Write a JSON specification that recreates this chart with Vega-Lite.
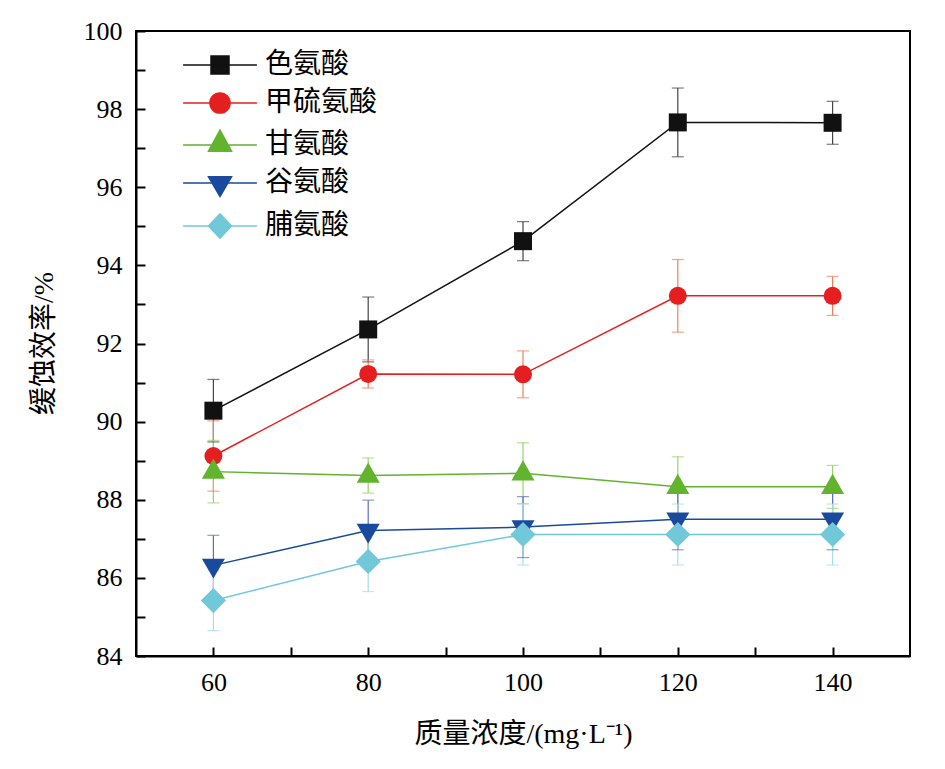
{
  "$schema": "https://vega.github.io/schema/vega-lite/v6.json",
  "width": 774,
  "height": 625,
  "autosize": {"type": "none"},
  "padding": {"left": 136, "top": 31, "right": 35, "bottom": 113},
  "background": "white",
  "config": {
    "font": "Liberation Serif",
    "view": {"stroke": "black", "strokeWidth": 2},
    "axis": {
      "grid": false,
      "domainColor": "black",
      "domainWidth": 2,
      "tickColor": "black",
      "tickWidth": 2,
      "tickSize": -9,
      "labelColor": "black",
      "labelFont": "Liberation Serif",
      "labelFontSize": 26,
      "titleColor": "black",
      "titleFont": "Liberation Serif, Noto Sans CJK SC",
      "titleFontSize": 28,
      "titleFontWeight": "normal"
    }
  },
  "data": {
    "values": [
      {"conc": 60, "acid": "色氨酸", "eff": 90.28, "lo": 89.48, "hi": 91.08},
      {"conc": 80, "acid": "色氨酸", "eff": 92.36, "lo": 91.53, "hi": 93.19},
      {"conc": 100, "acid": "色氨酸", "eff": 94.62, "lo": 94.12, "hi": 95.12},
      {"conc": 120, "acid": "色氨酸", "eff": 97.66, "lo": 96.78, "hi": 98.54},
      {"conc": 140, "acid": "色氨酸", "eff": 97.65, "lo": 97.1, "hi": 98.2},
      {"conc": 60, "acid": "甲硫氨酸", "eff": 89.12, "lo": 88.22, "hi": 90.02},
      {"conc": 80, "acid": "甲硫氨酸", "eff": 91.22, "lo": 90.86, "hi": 91.58},
      {"conc": 100, "acid": "甲硫氨酸", "eff": 91.21, "lo": 90.61, "hi": 91.81},
      {"conc": 120, "acid": "甲硫氨酸", "eff": 93.22, "lo": 92.29, "hi": 94.15},
      {"conc": 140, "acid": "甲硫氨酸", "eff": 93.22, "lo": 92.72, "hi": 93.72},
      {"conc": 60, "acid": "甘氨酸", "eff": 88.72, "lo": 87.92, "hi": 89.52},
      {"conc": 80, "acid": "甘氨酸", "eff": 88.62, "lo": 88.17, "hi": 89.07},
      {"conc": 100, "acid": "甘氨酸", "eff": 88.68, "lo": 87.9, "hi": 89.46},
      {"conc": 120, "acid": "甘氨酸", "eff": 88.33, "lo": 87.56, "hi": 89.1},
      {"conc": 140, "acid": "甘氨酸", "eff": 88.33, "lo": 87.78, "hi": 88.88},
      {"conc": 60, "acid": "谷氨酸", "eff": 86.32, "lo": 85.55, "hi": 87.09},
      {"conc": 80, "acid": "谷氨酸", "eff": 87.21, "lo": 86.43, "hi": 87.99},
      {"conc": 100, "acid": "谷氨酸", "eff": 87.3, "lo": 86.52, "hi": 88.08},
      {"conc": 120, "acid": "谷氨酸", "eff": 87.5, "lo": 86.72, "hi": 88.28},
      {"conc": 140, "acid": "谷氨酸", "eff": 87.5, "lo": 86.72, "hi": 88.28},
      {"conc": 60, "acid": "脯氨酸", "eff": 85.42, "lo": 84.65, "hi": 86.19},
      {"conc": 80, "acid": "脯氨酸", "eff": 86.42, "lo": 85.65, "hi": 87.19},
      {"conc": 100, "acid": "脯氨酸", "eff": 87.11, "lo": 86.33, "hi": 87.89},
      {"conc": 120, "acid": "脯氨酸", "eff": 87.11, "lo": 86.33, "hi": 87.89},
      {"conc": 140, "acid": "脯氨酸", "eff": 87.11, "lo": 86.33, "hi": 87.89}
    ]
  },
  "encoding": {
    "x": {
      "field": "conc",
      "type": "quantitative",
      "scale": {"domain": [50, 150], "nice": false, "zero": false},
      "title": "质量浓度/(mg·L⁻¹)",
      "axis": {
        "values": [60, 70, 80, 90, 100, 110, 120, 130, 140],
        "labelExpr": "datum.value % 20 === 0 ? datum.label : ''",
        "labelFontSize": 26,
        "labelPadding": 22,
        "titleX": 387,
        "titleY": 78,
        "titleBaseline": "middle"
      }
    },
    "y": {
      "field": "eff",
      "type": "quantitative",
      "scale": {"domain": [84, 100], "nice": false, "zero": false},
      "title": "缓蚀效率/%",
      "axis": {
        "values": [84, 85, 86, 87, 88, 89, 90, 91, 92, 93, 94, 95, 96, 97, 98, 99, 100],
        "labelExpr": "datum.value % 2 === 0 ? datum.label : ''",
        "labelFontSize": 26,
        "labelPadding": 23,
        "titleX": -92,
        "titleY": 312,
        "titleAngle": -90,
        "titleAlign": "center",
        "titleBaseline": "middle"
      }
    }
  },
  "layer": [
    {
      "mark": {"type": "line", "strokeWidth": 1.5},
      "encoding": {
        "color": {
          "field": "acid",
          "type": "nominal",
          "sort": ["色氨酸", "甲硫氨酸", "甘氨酸", "谷氨酸", "脯氨酸"],
          "scale": {
            "domain": ["色氨酸", "甲硫氨酸", "甘氨酸", "谷氨酸", "脯氨酸"],
            "range": ["#111111", "#e51f1f", "#62b32e", "#1a4a9e", "#70c8d8"]
          }
        }
      }
    },
    {
      "mark": {"type": "rule", "strokeWidth": 1.2},
      "encoding": {
        "y": {"field": "lo", "type": "quantitative"},
        "y2": {"field": "hi"},
        "stroke": {
          "field": "acid",
          "type": "nominal",
          "scale": {
            "domain": ["色氨酸", "甲硫氨酸", "甘氨酸", "谷氨酸", "脯氨酸"],
            "range": ["#444444", "#f07e5e", "#9ad26a", "#5f6cbf", "#a6dde9"]
          },
          "legend": null
        }
      }
    },
    {
      "mark": {"type": "tick", "orient": "horizontal", "size": 12, "thickness": 1.2},
      "encoding": {
        "y": {"field": "lo", "type": "quantitative"},
        "fill": {
          "field": "acid",
          "type": "nominal",
          "scale": {
            "domain": ["色氨酸", "甲硫氨酸", "甘氨酸", "谷氨酸", "脯氨酸"],
            "range": ["#444444", "#f07e5e", "#9ad26a", "#5f6cbf", "#a6dde9"]
          },
          "legend": null
        }
      }
    },
    {
      "mark": {"type": "tick", "orient": "horizontal", "size": 12, "thickness": 1.2},
      "encoding": {
        "y": {"field": "hi", "type": "quantitative"},
        "fill": {"field": "acid", "type": "nominal", "legend": null}
      }
    },
    {
      "transform": [{"filter": "datum.acid === '色氨酸'"}],
      "mark": {"type": "point", "shape": "square", "filled": true, "opacity": 1, "size": 324, "strokeWidth": 1},
      "encoding": {"color": {"field": "acid", "type": "nominal"}}
    },
    {
      "transform": [{"filter": "datum.acid === '甲硫氨酸'"}],
      "mark": {"type": "point", "shape": "circle", "filled": true, "opacity": 1, "size": 324, "strokeWidth": 1},
      "encoding": {"color": {"field": "acid", "type": "nominal"}}
    },
    {
      "transform": [{"filter": "datum.acid === '甘氨酸'"}],
      "mark": {"type": "point", "shape": "M0,-1.45L1.28,0.8H-1.28Z", "filled": true, "opacity": 1, "size": 324, "strokeWidth": 1},
      "encoding": {"color": {"field": "acid", "type": "nominal"}}
    },
    {
      "transform": [{"filter": "datum.acid === '谷氨酸'"}],
      "mark": {"type": "point", "shape": "M-1.28,-0.75H1.28L0,1.45Z", "filled": true, "opacity": 1, "size": 324, "strokeWidth": 1},
      "encoding": {"color": {"field": "acid", "type": "nominal"}}
    },
    {
      "transform": [{"filter": "datum.acid === '脯氨酸'"}],
      "mark": {"type": "point", "shape": "M-1.4,0L0,-1.4L1.4,0L0,1.4Z", "filled": true, "opacity": 1, "size": 324, "strokeWidth": 1},
      "encoding": {"color": {"field": "acid", "type": "nominal"}}
    },
    {
      "mark": {"type": "point", "filled": true, "opacity": 1, "size": 0, "strokeWidth": 0},
      "encoding": {
        "color": {
          "field": "acid",
          "type": "nominal",
          "title": null,
          "legend": {
            "orient": "none",
            "legendX": 42,
            "legendY": 20,
            "padding": 0,
            "symbolSize": 324,
            "symbolOffset": 28,
            "symbolStrokeWidth": 1.5,
            "labelOffset": 31,
            "labelFont": "Noto Sans CJK SC",
            "labelFontSize": 28,
            "labelColor": "black",
            "labelBaseline": "middle",
            "rowPadding": 10,
            "labelLimit": 300
          }
        },
        "shape": {
          "field": "acid",
          "type": "nominal",
          "title": null,
          "scale": {
            "domain": ["色氨酸", "甲硫氨酸", "甘氨酸", "谷氨酸", "脯氨酸"],
            "range": [
              "M-4.1,0H4.1M-1,-1H1V1H-1Z",
              "M-4.1,0H4.1M1.12,0A1.12,1.12,0,1,1,-1.12,0A1.12,1.12,0,1,1,1.12,0Z",
              "M-4.1,0H4.1M0,-1.65L1.28,0.7H-1.28Z",
              "M-4.1,0H4.1M-1.28,-0.7H1.28L0,1.5Z",
              "M-4.1,0H4.1M-1.28,0L0,-1.35L1.28,0L0,1.35Z"
            ]
          },
          "legend": {
            "orient": "none",
            "legendX": 42,
            "legendY": 20,
            "padding": 0,
            "symbolSize": 324,
            "symbolOffset": 28,
            "symbolStrokeWidth": 1.5,
            "labelOffset": 31,
            "labelFont": "Noto Sans CJK SC",
            "labelFontSize": 28,
            "labelColor": "black",
            "labelBaseline": "middle",
            "rowPadding": 10,
            "labelLimit": 300
          }
        }
      }
    }
  ]
}
